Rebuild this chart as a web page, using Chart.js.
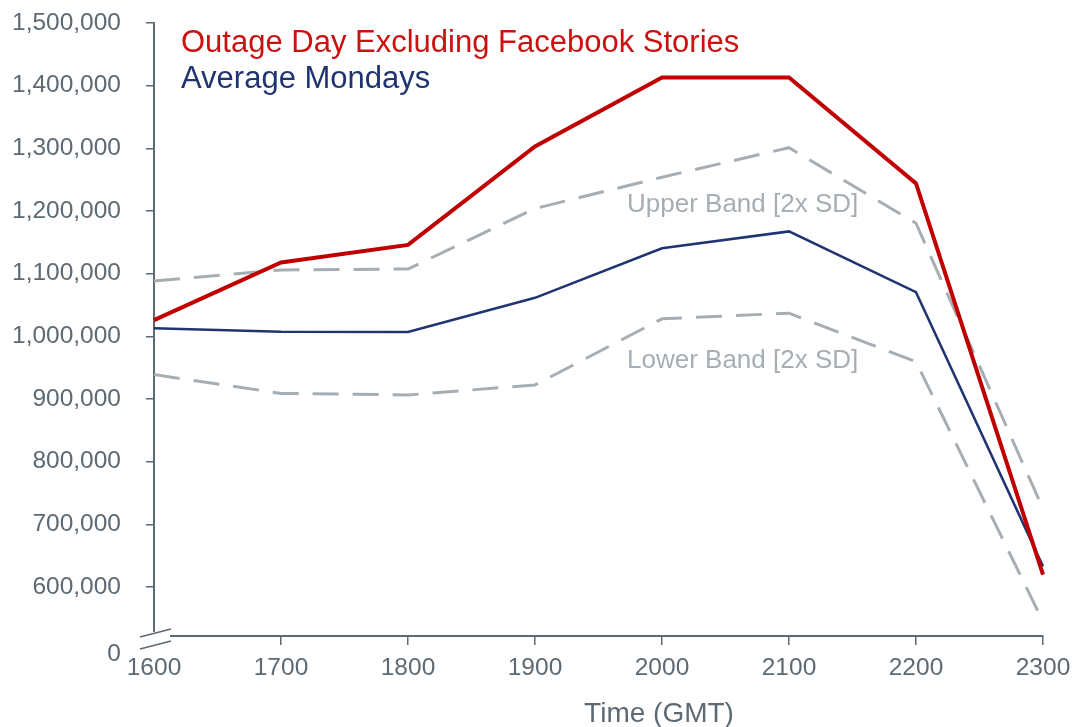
<!DOCTYPE html>
<html>
<head>
<meta charset="utf-8">
<script src="https://cdn.jsdelivr.net/npm/chart.js@4/dist/chart.umd.min.js"></script>
<style>
  html, body { margin: 0; padding: 0; background: #fff; }
  #wrap { width: 1076px; height: 727px; }
</style>
</head>
<body>
<div id="wrap"><canvas id="myChart" width="1076" height="727"></canvas></div>
<script>
// data
const times = ['1600', '1700', '1800', '1900', '2000', '2100', '2200', '2300'];
const outageDay = [1026000, 1118000, 1146000, 1303000, 1413000, 1413000, 1244000, 620000];
const averageMondays = [1013000, 1007500, 1007000, 1061500, 1140500, 1167500, 1070500, 633000];
const upperBand = [1088500, 1106000, 1107500, 1204000, 1254000, 1301000, 1180500, 725000];
const lowerBand = [939000, 909000, 906500, 922500, 1028000, 1037000, 959500, 545000];
const yTicks = [600000, 700000, 800000, 900000, 1000000, 1100000, 1200000, 1300000, 1400000, 1500000];
const yMin = 521900;   // where the broken axis meets the x axis, labelled 0
const yMax = 1500000;

const FONT = '"Liberation Sans", Arial, sans-serif';
const axisColor = '#5d6a74';
const red = '#c00000';
const navy = '#1f3470';
const bandGray = '#a7aeb3';

// legend, band notes, axis title and the axis break
const decorations = {
  id: 'decorations',
  afterDraw(chart) {
    const ctx = chart.ctx;
    const x = chart.scales.x;
    const y = chart.scales.y;
    const area = chart.chartArea;
    ctx.save();

    // break in the axes
    ctx.fillStyle = '#fff';
    ctx.fillRect(area.left - 4, area.bottom - 4, 8, 14);
    ctx.fillRect(area.left - 4, area.bottom - 3, 20, 6);
    ctx.strokeStyle = axisColor;
    ctx.lineWidth = 1.6;
    ctx.beginPath();
    ctx.moveTo(area.left - 14, area.bottom + 1);
    ctx.lineTo(area.left + 17, area.bottom - 7);
    ctx.moveTo(area.left - 14, area.bottom + 13);
    ctx.lineTo(area.left + 17, area.bottom + 5);
    ctx.stroke();

    // "0" label under the break
    ctx.fillStyle = axisColor;
    ctx.font = '24.5px ' + FONT;
    ctx.textAlign = 'right';
    ctx.textBaseline = 'middle';
    ctx.fillText('0', area.left - 33, area.bottom + 18);

    // x axis title
    ctx.font = '28px ' + FONT;
    ctx.textAlign = 'center';
    ctx.textBaseline = 'alphabetic';
    ctx.fillText('Time (GMT)', 659, 722);

    // legend text
    ctx.font = '31px ' + FONT;
    ctx.textAlign = 'left';
    ctx.fillStyle = '#cc1111';
    ctx.fillText(chart.data.datasets[0].label, area.left + 27, 52);
    ctx.fillStyle = navy;
    ctx.fillText(chart.data.datasets[1].label, area.left + 27, 88);

    // band notes
    ctx.font = '26px ' + FONT;
    ctx.fillStyle = bandGray;
    const noteX = x.getPixelForValue(4) - 35;
    ctx.fillText('Upper Band [2x SD]', noteX, y.getPixelForValue(1199000));
    ctx.fillText('Lower Band [2x SD]', noteX, y.getPixelForValue(949500));
    ctx.restore();
  }
};

const ctx = document.getElementById('myChart').getContext('2d');
const chart = new Chart(ctx, {
  type: 'line',
  data: {
    labels: times,
    datasets: [
      {
        label: 'Outage Day Excluding Facebook Stories',
        data: outageDay,
        borderColor: red,
        borderWidth: 4,
      },
      {
        label: 'Average Mondays',
        data: averageMondays,
        borderColor: navy,
        borderWidth: 2.5,
      },
      {
        label: 'Upper Band [2x SD]',
        data: upperBand,
        borderColor: bandGray,
        borderWidth: 3,
        borderDash: [26, 14],
      },
      {
        label: 'Lower Band [2x SD]',
        data: lowerBand,
        borderColor: bandGray,
        borderWidth: 3,
        borderDash: [26, 14],
      },
    ]
  },
  options: {
    responsive: false,
    animation: false,
    events: [],
    elements: {
      point: { radius: 0 },
      line: { tension: 0, fill: false, borderJoinStyle: 'miter' }
    },
    layout: { padding: { top: 23, right: 33, left: 0, bottom: 0 } },
    plugins: {
      legend: { display: false },
      tooltip: { enabled: false },
      title: { display: false }
    },
    scales: {
      x: {
        type: 'category',
        offset: false,
        grid: { display: true, drawOnChartArea: false, drawTicks: true, tickLength: 9, color: axisColor, lineWidth: 1.5 },
        border: { display: true, color: axisColor, width: 2 },
        ticks: {
          color: axisColor,
          font: { family: FONT, size: 24.5 },
          padding: 9,
          maxRotation: 0,
          autoSkip: false
        },
        afterFit(scale) {
          scale.height = 91;
          scale.paddingLeft = 0;
          scale.paddingRight = 0;
        }
      },
      y: {
        type: 'linear',
        min: yMin,
        max: yMax,
        grid: { display: true, drawOnChartArea: false, drawTicks: true, tickLength: 8, color: axisColor, lineWidth: 1.5 },
        border: { display: true, color: axisColor, width: 2 },
        ticks: {
          color: axisColor,
          font: { family: FONT, size: 24.5 },
          padding: 25,
          callback: (v) => v.toLocaleString('en-US')
        },
        afterBuildTicks(scale) {
          scale.ticks = yTicks.map((v) => ({ value: v }));
        },
        afterFit(scale) {
          scale.width = 154;
          scale.paddingTop = 0;
          scale.paddingBottom = 0;
        }
      }
    }
  },
  plugins: [decorations]
});
</script>
</body>
</html>
